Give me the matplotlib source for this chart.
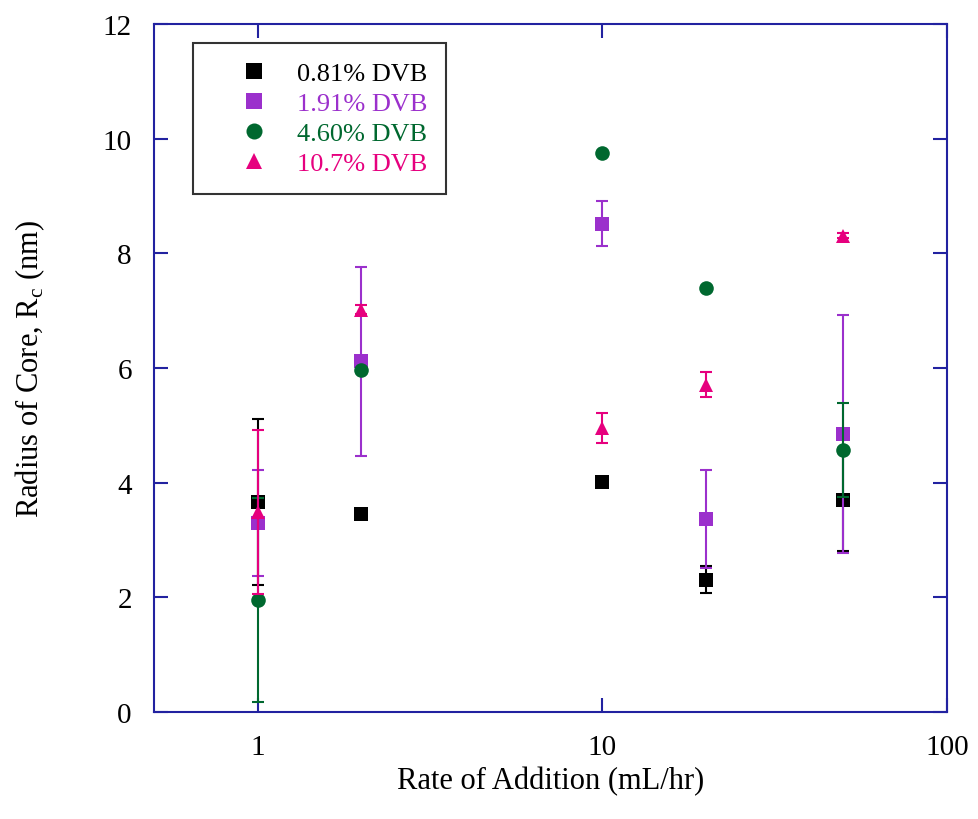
import matplotlib as mpl
mpl.use('Agg')
import matplotlib.pyplot as plt
import numpy as np

plt.rcParams['font.family'] = ['Liberation Serif', 'DejaVu Serif']
plt.rcParams['mathtext.fontset'] = 'custom'
plt.rcParams['mathtext.rm'] = 'Liberation Serif'

# data
rate = [1, 2, 10, 20, 50]

r_081 = [3.66, 3.46, 4.01, 2.31, 3.70]
e_081 = [1.45, 0.0, 0.0, 0.23, 0.90]

r_191 = [3.30, 6.12, 8.52, 3.37, 4.85]
e_191 = [0.92, 1.65, 0.39, 0.85, 2.07]

r_460 = [1.95, 5.97, 9.75, 7.40, 4.57]
e_460 = [1.78, 0.0, 0.0, 0.0, 0.82]

r_107 = [3.49, 7.02, 4.95, 5.71, 8.31]
e_107 = [1.43, 0.08, 0.26, 0.22, 0.05]

labels = ['0.81% DVB', '1.91% DVB', '4.60% DVB', '10.7% DVB']
colors = ['#000000', '#9B30CC', '#00682F', '#E6007E']
markers = ['s', 's', 'o', '^']

fig = plt.figure(figsize=(9.79, 8.2), dpi=100)
ax = fig.add_axes([0.1573, 0.1305, 0.81, 0.839])

series = [(r_081, e_081), (r_191, e_191), (r_460, e_460), (r_107, e_107)]
handles = []
for (y, e), lab, c, m in zip(series, labels, colors, markers):
    # error bars only where there is one
    xs = [x for x, ee in zip(rate, e) if ee > 0]
    ys = [v for v, ee in zip(y, e) if ee > 0]
    es = [ee for ee in e if ee > 0]
    ax.errorbar(xs, ys, yerr=es, fmt='none', ecolor=c, elinewidth=1.5,
                capsize=4.5, capthick=1.5)
    h, = ax.plot(rate, y, m, color=c, markersize=10.5, markeredgewidth=0,
                 linestyle='none', label=lab)
    handles.append(h)

ax.set_xscale('log')
ax.set_xlim(0.5, 100)
ax.set_ylim(0, 12)
ax.set_xticks([1, 10, 100])
ax.set_xticklabels(['1', '10', '100'])
ax.xaxis.set_minor_locator(mpl.ticker.NullLocator())
ax.set_yticks(np.arange(0, 13, 2))

spine_col = '#2222A0'
for s in ax.spines.values():
    s.set_color(spine_col)
    s.set_linewidth(1.5)
ax.tick_params(direction='in', length=10, width=1.5, color=spine_col,
               top=True, right=True, labelsize=21)
ax.tick_params(axis='x', pad=16)
ax.tick_params(axis='y', pad=16)

ax.set_xlabel('Rate of Addition (mL/hr)', fontsize=22, labelpad=4)
ax.set_ylabel(r'Radius of Core, R$_\mathregular{c}$ (nm)', fontsize=22, labelpad=40)

leg = ax.legend(handles=handles, loc='upper left', bbox_to_anchor=(0.049, 0.9724),
                borderaxespad=0, fontsize=19, frameon=True, fancybox=False,
                handletextpad=0.05, borderpad=0.7, labelspacing=0.25,
                handlelength=3.2, markerscale=1.1)
leg.get_frame().set_edgecolor('black')
leg.get_frame().set_linewidth(1.5)
for t, c in zip(leg.get_texts(), colors):
    t.set_color(c)

plt.savefig('out.png', dpi=100)
plt.close()
